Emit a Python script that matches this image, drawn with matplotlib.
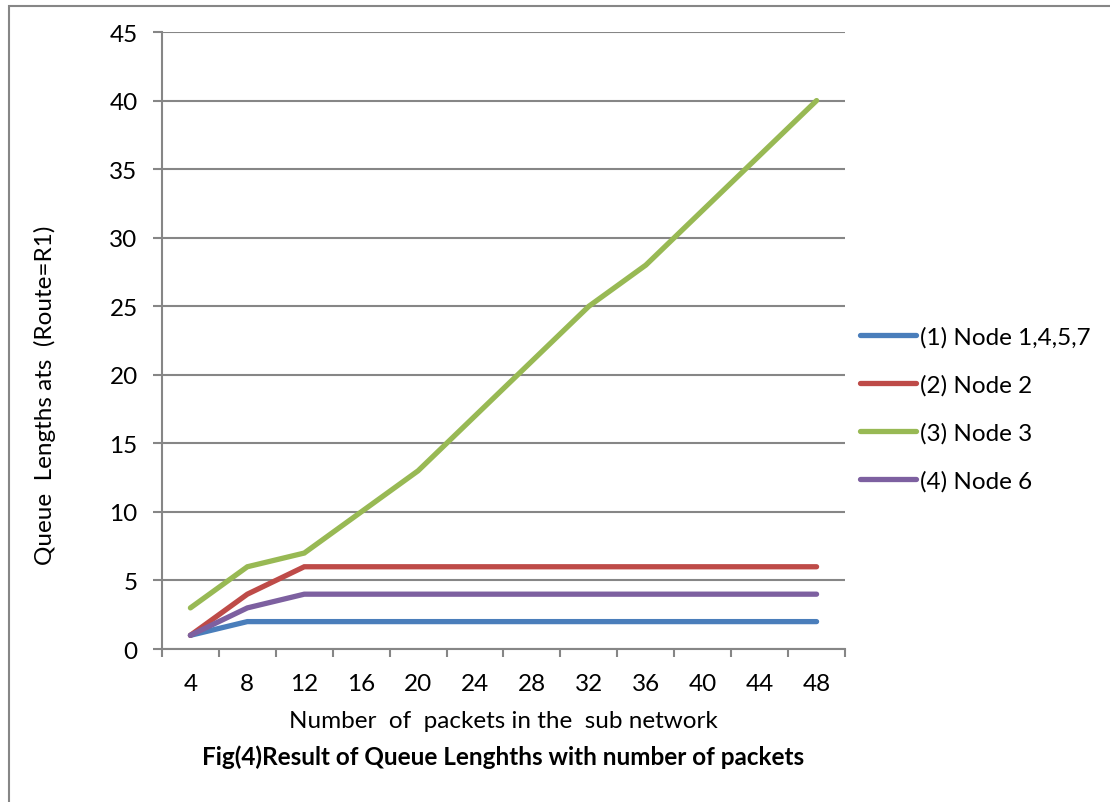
import numpy as np
import matplotlib.pyplot as plt
from matplotlib.patches import Rectangle

plt.rcParams['font.family'] = ['Lato', 'DejaVu Sans']

packets = [4, 8, 12, 16, 20, 24, 28, 32, 36, 40, 44, 48]
node_1457 = [1, 2, 2, 2, 2, 2, 2, 2, 2, 2, 2, 2]
node_2 = [1, 4, 6, 6, 6, 6, 6, 6, 6, 6, 6, 6]
node_3 = [3, 6, 7, 10, 13, 17, 21, 25, 28, 32, 36, 40]
node_6 = [1, 3, 4, 4, 4, 4, 4, 4, 4, 4, 4, 4]

series = [
    ('(1) Node 1,4,5,7', node_1457, '#4a7ebb'),
    ('(2) Node 2', node_2, '#be4b48'),
    ('(3) Node 3', node_3, '#98b954'),
    ('(4) Node 6', node_6, '#7d60a0'),
]

grey = '#868686'
fs = 17.5

fig = plt.figure(figsize=(11.10, 8.03), dpi=100)
ax = fig.add_axes([0.1459, 0.1905, 0.6154, 0.7684])

x = np.arange(len(packets))
for label, vals, col in series:
    ax.plot(x, vals, color=col, lw=3.8, solid_capstyle='round',
            solid_joinstyle='miter', label=label)

ax.set_xlim(-0.5, len(packets) - 0.5)
ax.set_ylim(0, 45)
ax.set_yticks(np.arange(0, 46, 5))
ax.set_xticks(x)
ax.set_xticklabels(packets)
ax.set_xticks(np.arange(-0.5, len(packets), 1), minor=True)
ax.tick_params(axis='x', which='major', length=0, pad=17, labelsize=fs)
ax.tick_params(axis='x', which='minor', length=6, width=1.5, color=grey)
ax.tick_params(axis='y', length=6.5, width=1.5, color=grey, labelsize=fs, pad=11)

ax.grid(axis='y', color=grey, lw=1.5)
ax.set_axisbelow(True)
for side in ['top', 'right']:
    ax.spines[side].set_visible(False)
for side in ['left', 'bottom']:
    ax.spines[side].set_color(grey)
    ax.spines[side].set_linewidth(1.5)

fig.text(0.4532, 1 - 722 / 803, 'Number  of  packets in the  sub network',
         ha='center', va='center', fontsize=fs)
fig.text(0.4532, 1 - 757 / 803, 'Fig(4)Result of Queue Lenghths with number of packets',
         ha='center', va='center', fontsize=fs, fontweight='bold')
fig.text(45 / 1110, 1 - 395 / 803, 'Queue  Lengths ats  (Route=R1)',
         ha='center', va='center', rotation=90, fontsize=fs)

leg = ax.legend(loc='center left', bbox_to_anchor=(1.0, 0.39), frameon=False,
                fontsize=fs, handlelength=2.3, handletextpad=0.2,
                labelspacing=1.09, borderaxespad=0.2)

# outer frame (only top and left edges fall inside the canvas)
fig.patches.append(Rectangle((9 / 1110, -0.1), 1.2, 1 - 7 / 803 + 0.1,
                             transform=fig.transFigure, fill=False,
                             edgecolor=grey, lw=1.5))

fig.savefig('out.png', dpi=100)
